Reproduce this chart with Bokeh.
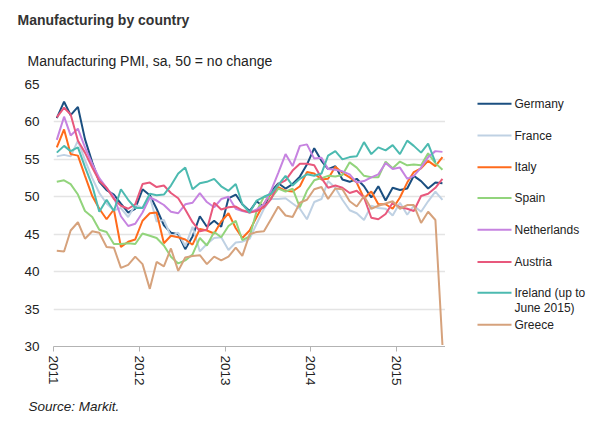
import pandas as pd
from bokeh.plotting import figure
from bokeh.models import Title, FixedTicker, DatetimeTickFormatter, Range1d
from bokeh.core.properties import value
from bokeh.layouts import row
from bokeh.embed import file_html
from bokeh.resources import INLINE

# ---------------- data ----------------
months = pd.date_range("2011-01-15", periods=55, freq=pd.DateOffset(months=1))

germany = [60.5, 62.7, 60.9, 62.0, 57.7, 54.6, 52.0, 50.9, 50.3, 49.1, 47.9, 48.4,
           51.0, 50.2, 48.4, 46.2, 45.2, 45.0, 43.0, 44.7, 47.4, 46.0, 46.8, 46.0,
           49.8, 50.3, 49.0, 48.1, 49.4, 48.6, 50.7, 51.8, 51.1, 51.7, 52.7, 54.3,
           56.5, 54.8, 53.7, 54.1, 52.3, 52.0, 52.4, 51.4, 49.9, 51.4, 49.5, 51.2,
           50.9, 51.1, 52.8, 52.1, 51.1, 51.9, 51.8]
france = [55.4, 55.6, 55.4, 57.5, 54.9, 52.5, 50.5, 49.1, 48.2, 48.5, 47.3, 48.9,
          48.5, 50.0, 46.7, 46.9, 44.7, 45.2, 43.4, 46.0, 42.7, 43.7, 44.5, 44.6,
          42.9, 43.9, 44.0, 44.4, 46.4, 48.4, 49.7, 49.7, 49.8, 49.1, 48.4, 47.0,
          49.3, 49.7, 52.1, 51.2, 49.6, 48.2, 47.8, 46.9, 48.8, 48.5, 48.4, 47.5,
          49.2, 47.6, 48.8, 48.0, 49.4, 50.7, 49.6]
italy = [56.6, 59.0, 55.7, 55.5, 52.8, 50.1, 48.4, 47.0, 48.3, 43.3, 44.0, 44.3,
         46.8, 47.8, 47.9, 43.8, 44.8, 44.6, 44.3, 43.6, 45.7, 45.5, 45.1, 46.7,
         47.8, 45.8, 44.5, 45.5, 47.3, 49.1, 50.4, 51.3, 50.8, 50.7, 51.4, 53.3,
         53.1, 52.3, 52.4, 54.0, 53.2, 52.6, 51.9, 49.8, 50.7, 49.0, 49.0, 48.4,
         49.9, 51.9, 53.3, 53.8, 54.8, 54.1, 55.3]
spain = [52.0, 52.2, 51.7, 50.3, 48.1, 47.3, 45.6, 45.3, 43.7, 43.7, 43.8, 43.7,
         45.1, 44.8, 44.5, 43.5, 42.0, 41.1, 41.5, 42.3, 44.5, 43.5, 45.3, 44.6,
         46.1, 46.8, 44.2, 44.7, 48.1, 50.0, 49.8, 51.1, 50.7, 51.1, 48.6, 50.8,
         52.2, 52.5, 52.8, 52.7, 52.9, 54.6, 53.9, 52.8, 52.6, 52.6, 54.7, 53.8,
         54.7, 54.2, 54.3, 54.2, 55.8, 54.5, 53.6]
netherlands = [57.6, 60.7, 58.2, 59.1, 56.6, 54.4, 52.5, 51.2, 50.0, 47.4, 46.1, 46.4,
               47.9, 49.9, 49.5, 48.9, 48.0, 47.8, 49.0, 49.2, 50.5, 49.3, 48.6, 49.7,
               50.0, 48.4, 48.1, 47.9, 48.3, 49.0, 50.8, 53.2, 55.7, 54.1, 56.8, 57.0,
               55.1, 55.2, 53.7, 53.6, 53.4, 53.0, 51.9, 52.1, 52.6, 53.0, 54.5, 53.7,
               53.9, 52.4, 52.8, 53.9, 55.3, 56.1, 56.0]
austria = [60.6, 61.9, 61.0, 57.5, 55.9, 53.9, 52.1, 51.2, 49.7, 48.8, 48.4, 49.0,
           51.7, 51.9, 51.3, 51.5, 50.5, 49.8, 48.3, 46.6, 45.4, 45.6, 49.2, 48.3,
           48.6, 48.7, 48.2, 47.9, 48.1, 48.6, 49.7, 51.7, 52.2, 53.5, 54.4, 54.4,
           54.2, 52.5, 51.2, 51.5, 51.2, 50.5, 50.8, 49.9, 47.2, 47.0, 47.7, 49.2,
           48.6, 48.4, 48.1, 50.1, 50.4, 51.2, 52.4]
ireland = [55.9, 56.8, 56.1, 56.6, 54.0, 51.5, 48.0, 49.6, 48.1, 51.0, 49.6, 48.5,
           48.5, 50.4, 50.2, 50.3, 51.5, 53.1, 53.9, 51.0, 51.8, 52.0, 52.4, 51.4,
           50.8, 51.7, 49.0, 47.9, 49.5, 50.0, 50.4, 51.6, 52.8, 51.5, 52.4, 53.0,
           52.8, 53.1, 55.5, 56.1, 55.0, 55.3, 55.4, 57.3, 55.7, 56.6, 56.2, 56.9,
           55.7, 57.5, 56.8, 55.9, 57.1, 54.6]
greece = [42.8, 42.7, 45.5, 46.6, 44.4, 45.4, 45.2, 43.3, 43.2, 40.5, 40.9, 42.0,
          41.0, 37.7, 41.3, 40.7, 43.1, 40.1, 41.9, 42.1, 42.2, 41.0, 42.0, 41.5,
          42.0, 43.2, 42.1, 45.0, 45.3, 45.4, 47.0, 48.7, 47.5, 47.3, 49.2, 49.6,
          51.0, 51.3, 49.7, 51.1, 51.0, 49.4, 48.7, 50.1, 48.4, 48.8, 49.1, 49.4,
          48.4, 48.9, 48.9, 46.5, 48.0, 46.9, 30.2]

series_names = ["Germany", "France", "Italy", "Spain", "Netherlands", "Austria",
                "Ireland (up to\nJune 2015)", "Greece"]
series_values = [germany, france, italy, spain, netherlands, austria, ireland, greece]
series_colors = ["#1b4f80", "#bfd1e3", "#ff6b1c", "#92d47c", "#c683e0", "#e8587c",
                 "#4cbab0", "#d6a27c"]

year_ticks = [2011, 2012, 2013, 2014, 2015]
y_ticks = [30, 35, 40, 45, 50, 55, 60, 65]

title_text = "Manufacturing by country"
subtitle_text = "Manufacturing PMI, sa, 50 = no change"
source_text = "Source: Markit."

FONT = "Liberation Sans"
TXT = "#222222"
W, H = 602, 425
FRAME_L, FRAME_R, FRAME_T, FRAME_B = 53, 445, 84, 346

# ---------------- main chart ----------------
p = figure(width=FRAME_R, height=H, output_backend="svg", toolbar_location=None,
           x_axis_type="datetime", title=None,
           x_range=Range1d(pd.Timestamp("2011-01-01"), pd.Timestamp("2015-07-28")),
           y_range=Range1d(30, 65),
           min_border_left=FRAME_L, min_border_right=0, min_border_top=FRAME_T,
           min_border_bottom=H - FRAME_B)
p.outline_line_color = None

for name, vals, col in zip(series_names, series_values, series_colors):
    p.line(months[:len(vals)], vals, line_width=2, color=col)

p.xaxis.ticker = FixedTicker(ticks=[pd.Timestamp(f"{y}-01-01").timestamp() * 1000 for y in year_ticks])
p.xaxis.formatter = DatetimeTickFormatter(years="%Y", months="%Y", days="%Y", hours="%Y",
                                          minutes="%Y", seconds="%Y", milliseconds="%Y",
                                          microseconds="%Y", minsec="%Y", hourmin="%Y")
p.xaxis.major_label_orientation = "vertical"
p.xaxis.axis_line_color = "#b3b3b3"
p.xaxis.major_tick_line_color = "#b3b3b3"
p.xaxis.major_tick_in = 0
p.xaxis.major_tick_out = 5
p.xaxis.minor_tick_line_color = None
p.xaxis.major_label_standoff = 4
p.xaxis.major_label_text_font = FONT
p.xaxis.major_label_text_font_size = "13.5px"
p.xaxis.major_label_text_color = TXT
p.xgrid.grid_line_color = None

p.yaxis.ticker = FixedTicker(ticks=y_ticks)
p.yaxis.axis_line_color = None
p.yaxis.major_tick_line_color = None
p.yaxis.minor_tick_line_color = None
p.yaxis.major_tick_in = 0
p.yaxis.major_tick_out = 0
p.yaxis.major_label_standoff = 14
p.yaxis.major_label_text_font = FONT
p.yaxis.major_label_text_font_size = "13.5px"
p.yaxis.major_label_text_color = TXT
p.ygrid.grid_line_color = "#e4e4e4"
p.ygrid.grid_line_width = 1.5

# titles (first added "above" sits nearest the frame)
p.add_layout(Title(text=subtitle_text, align="left", offset=27 - FRAME_L, standoff=32,
                   text_font=FONT, text_font_size="14px", text_font_style="normal",
                   text_color=TXT), "above")
p.add_layout(Title(text=title_text, align="left", offset=17 - FRAME_L, standoff=14,
                   text_font=FONT, text_font_size="14px", text_font_style="bold",
                   text_color="#333333"), "above")
p.add_layout(Title(text=source_text, align="left", offset=28 - FRAME_L, standoff=16,
                   text_font=FONT, text_font_size="13.5px", text_font_style="italic",
                   text_color=TXT), "below")

# ---------------- legend panel (pixel coordinates, y down) ----------------
LW = W - FRAME_R
lg = figure(width=LW, height=H, output_backend="svg", toolbar_location=None,
            x_range=Range1d(0, LW), y_range=Range1d(FRAME_B, FRAME_T), title=None,
            min_border_left=0, min_border_right=0, min_border_top=FRAME_T,
            min_border_bottom=H - FRAME_B, x_axis_location=None, y_axis_location=None)
lg.outline_line_color = None
lg.grid.visible = False

legend_y = [103.3, 135, 166.7, 197.5, 229.3, 261.5, 292.3, 324.3]
line_x0, line_x1, text_x = 477 - FRAME_R, 511 - FRAME_R, 514 - FRAME_R
seg_x0, seg_x1, seg_y, seg_c = [], [], [], []
txt_x, txt_y, txt_s = [], [], []
for name, col, ly in zip(series_names, series_colors, legend_y):
    seg_x0.append(line_x0); seg_x1.append(line_x1); seg_y.append(ly); seg_c.append(col)
    for k, part in enumerate(name.split("\n")):
        txt_x.append(text_x); txt_y.append(ly + 15.4 * k); txt_s.append(part)
lg.segment(x0=seg_x0, y0=seg_y, x1=seg_x1, y1=seg_y, line_color=seg_c, line_width=2)
lg.text(x=txt_x, y=txt_y, text=txt_s, text_font=value(FONT), text_font_size="12px",
        text_color=TXT, text_baseline="middle", text_align="left")

layout = row(p, lg)
open("out.html", "w").write(file_html(layout, INLINE))
